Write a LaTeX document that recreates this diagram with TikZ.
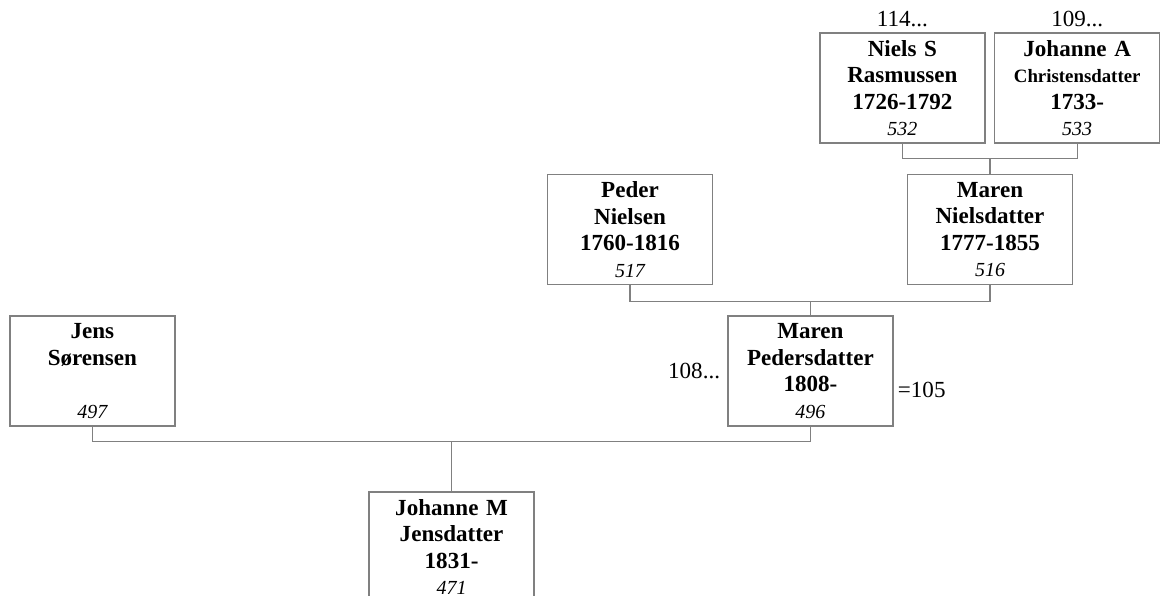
\documentclass[tikz,border=0pt]{standalone}
\usepackage{fontspec}
\setmainfont{Liberation Serif}
\usetikzlibrary{positioning, calc}
\definecolor{boxgray}{RGB}{128,128,128}
\newcommand{\idno}[1]{{\normalfont\itshape\fontsize{14.2}{18.8}\selectfont #1}}

\begin{document}
\begin{tikzpicture}[
        person/.style={rectangle, draw=boxgray, line width=1.1pt, minimum width=4.125cm, minimum height=2.75cm, inner sep=0pt, text width=4cm, align=center, font=\fontsize{16.4}{18.8}\selectfont\bfseries},
        link/.style={draw=boxgray, line width=0.9pt},
        tag/.style={inner sep=0pt, font=\fontsize{16.4}{18.8}\selectfont}
    ]
        \useasboundingbox (0,0) rectangle (29.15,-14.9);
        \clip (0,0) rectangle (29.15,-14.9);
        \node[person] (niels) at (22.56,-2.2) {Niels S\\Rasmussen\\1726-1792\\\idno{532}};
        \node[person] (johannea) at (26.93,-2.2) {Johanne A\\{\fontsize{13.4}{18.8}\selectfont Christensdatter}\\1733-\\\idno{533}};
        \node[person] (peder) at (15.75,-5.74) {Peder\\Nielsen\\1760-1816\\\idno{517}};
        \node[person] (marenn) at (24.75,-5.74) {Maren\\Nielsdatter\\1777-1855\\\idno{516}};
        \node[person] (jens) at (2.31,-9.275) {Jens\\Sørensen\\\mbox{}\\\idno{497}};
        \node[person] (marenp) at (20.26,-9.275) {Maren\\Pedersdatter\\1808-\\\idno{496}};
        \node[person] (johannem) at (11.29,-13.675) {Johanne M\\Jensdatter\\1831-\\\idno{471}};

        \node[tag, above=0.12cm of niels] (n114) {114...};
        \node[tag, above=0.12cm of johannea] (n109) {109...};
        \node[tag, left=0.17cm of marenp] (n108) {108...};
        \node[tag, anchor=west] (n105) at ([xshift=0.1cm, yshift=-0.48cm]marenp.east) {=105};

        \draw[link] (niels.south) -- ++(0,-0.375) coordinate (bar1) -| (johannea.south);
        \draw[link] (marenn.north) -- (marenn.north |- bar1);
        \draw[link] (peder.south) -- ++(0,-0.4) coordinate (bar2) -| (marenn.south);
        \draw[link] (marenp.north) -- (marenp.north |- bar2);
        \draw[link] (jens.south) -- ++(0,-0.375) coordinate (bar3) -| (marenp.south);
        \draw[link] (johannem.north) -- (johannem.north |- bar3);
    \end{tikzpicture}
\end{document}
